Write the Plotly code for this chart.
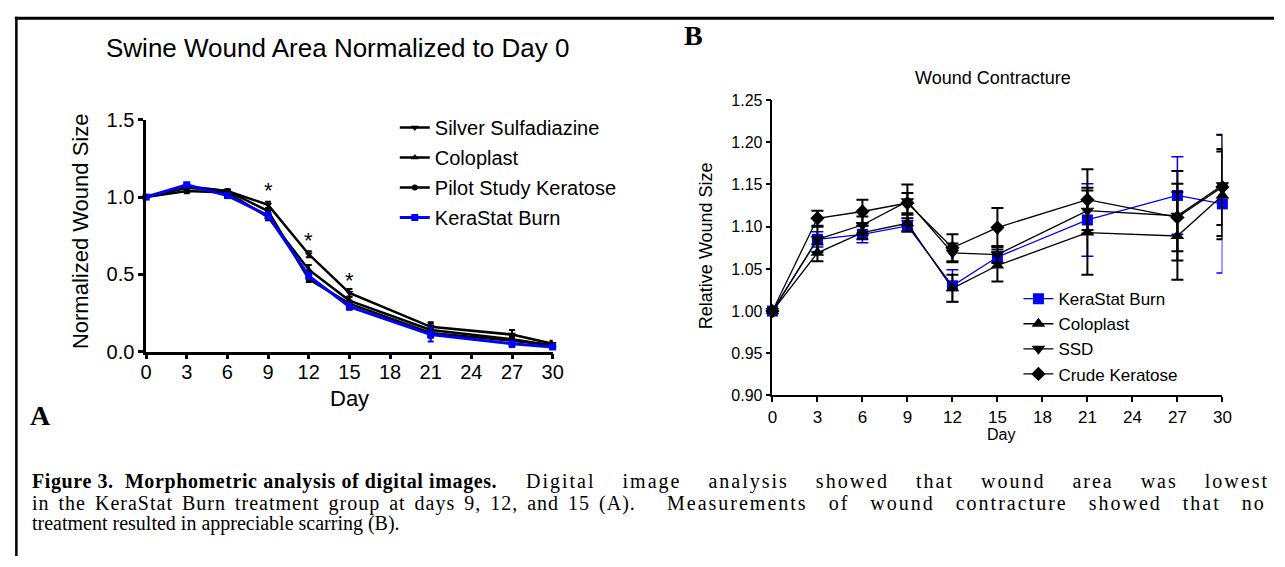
import plotly.graph_objects as go

W, H = 1285, 567

# ---------------- data: panel A ----------------
days_A = [0, 3, 6, 9, 12, 15, 21, 27, 30]
ssd_A = [1.00, 1.06, 1.04, 0.95, 0.63, 0.38, 0.16, 0.11, 0.05]
ssd_A_err = [0, 0.01, 0.01, 0.02, 0.02, 0.025, 0.03, 0.03, 0.02]
col_A = [1.00, 1.04, 1.03, 0.87, 0.53, 0.33, 0.14, 0.08, 0.04]
col_A_err = [0, 0.015, 0.01, 0.02, 0.03, 0.025, 0.04, 0.02, 0.02]
pilot_A = [1.00, 1.07, 1.04, 0.91, 0.47, 0.31, 0.12, 0.07, 0.04]
pilot_A_err = [0, 0.01, 0.01, 0.02, 0.02, 0.02, 0.03, 0.02, 0.02]
kera_A = [1.00, 1.08, 1.01, 0.88, 0.49, 0.29, 0.11, 0.05, 0.03]
kera_A_err = [0, 0.01, 0.01, 0.02, 0.02, 0.02, 0.045, 0.02, 0.01]
star_days = [9, 12, 15]
star_vals = [1.04, 0.72, 0.46]

# ---------------- data: panel B ----------------
days_B = [0, 3, 6, 9, 12, 15, 21, 27, 30]
kera_B = [1.000, 1.085, 1.091, 1.101, 1.030, 1.064, 1.108, 1.137, 1.127]
kera_B_err = [0, 0.009, 0.010, 0.006, 0.019, 0.006, 0.043, 0.046, 0.082]
col_B = [1.000, 1.069, 1.093, 1.104, 1.027, 1.054, 1.093, 1.089, 1.137]
col_B_err = [0, 0.010, 0.008, 0.010, 0.016, 0.019, 0.050, 0.052, 0.052]
ssd_B = [1.000, 1.085, 1.102, 1.130, 1.069, 1.067, 1.119, 1.113, 1.149]
ssd_B_err = [0, 0.015, 0.010, 0.020, 0.011, 0.010, 0.027, 0.053, 0.060]
crude_B = [1.000, 1.110, 1.118, 1.128, 1.075, 1.099, 1.132, 1.111, 1.147]
crude_B_err = [0, 0.009, 0.014, 0.012, 0.016, 0.023, 0.036, 0.040, 0.045]

x_ticks = [0, 3, 6, 9, 12, 15, 18, 21, 24, 27, 30]

SANS = "Arial, Liberation Sans, sans-serif"
SERIF = "Times New Roman, Liberation Serif, serif"
BLUE = "#0000ff"


def px(x):
    return x / W


def py(y):
    return 1 - y / H


fig = go.Figure()

# Panel A traces
specs_A = [
    ("Silver Sulfadiazine", ssd_A, ssd_A_err, "black", "triangle-down", 7, 2.5),
    ("Coloplast", col_A, col_A_err, "black", "triangle-up", 7, 2.5),
    ("Pilot Study Keratose", pilot_A, pilot_A_err, "black", "circle", 6, 2.5),
    ("KeraStat Burn", kera_A, kera_A_err, BLUE, "square", 7, 3),
]
for name, vals, errs, color, sym, size, lw in specs_A:
    fig.add_trace(go.Scatter(
        x=days_A, y=vals, name=name, mode="lines+markers",
        line=dict(color=color, width=lw),
        marker=dict(symbol=sym, size=size, color=color),
        error_y=dict(type="data", array=errs, visible=True, color=color,
                     thickness=2, width=3),
        xaxis="x", yaxis="y", legend="legend", cliponaxis=False,
        legendgroup=name + "A",
    ))

# Panel B traces
specs_B = [
    ("KeraStat Burn", kera_B, kera_B_err, BLUE, "square", 11, 1.5),
    ("Coloplast", col_B, col_B_err, "black", "triangle-up", 12, 2),
    ("SSD", ssd_B, ssd_B_err, "black", "triangle-down", 12, 2),
    ("Crude Keratose", crude_B, crude_B_err, "black", "diamond", 11, 2),
]
for name, vals, errs, color, sym, size, eth in specs_B:
    fig.add_trace(go.Scatter(
        x=days_B, y=vals, name=name, mode="lines+markers",
        line=dict(color=color, width=1.3),
        marker=dict(symbol=sym, size=size, color=color),
        error_y=dict(type="data", array=errs, visible=True, color=color,
                     thickness=eth, width=6),
        xaxis="x2", yaxis="y2", legend="legend2", cliponaxis=False,
        legendgroup=name + "B",
    ))

axis_common = dict(showgrid=False, zeroline=False, showline=True,
                   linecolor="black", ticks="outside", tickcolor="black")

annotations = [
    dict(text="Swine Wound Area Normalized to Day 0", x=px(336), y=py(38),
         font=dict(family=SANS, size=26, color="black")),
    dict(text="Normalized Wound Size", x=px(75), y=py(229), textangle=-90,
         font=dict(family=SANS, size=22, color="black")),
    dict(text="Day", x=px(348), y=py(403),
         font=dict(family=SANS, size=22, color="black")),
    dict(text="<b>A</b>", x=px(35), y=py(421),
         font=dict(family=SERIF, size=28, color="black")),
    dict(text="<b>B</b>", x=px(697), y=py(25),
         font=dict(family=SERIF, size=28, color="black")),
    dict(text="Wound Contracture", x=px(1000), y=py(70),
         font=dict(family=SANS, size=18, color="black")),
    dict(text="Relative Wound Size", x=px(709), y=py(244), textangle=-90,
         font=dict(family=SANS, size=18, color="black")),
    dict(text="Day", x=px(1008), y=py(441),
         font=dict(family=SANS, size=16, color="black")),
]
for a in annotations:
    a.update(xref="paper", yref="paper", showarrow=False,
             xanchor="center", yanchor="middle")

# significance stars (data coords of panel A)
for d, v in zip(star_days, star_vals):
    annotations.append(dict(text="*", x=d, y=v, xref="x", yref="y",
                            showarrow=False, yanchor="middle",
                            font=dict(family=SANS, size=22, color="black")))

# caption: justified lines approximated by chunks with letter/word spacing
cap_font = dict(family=SERIF, size=20, color="black")
cap_chunks = [
    ("<b>Figure 3.\u00a0 Morphometric analysis of digital images.</b>", 24, 490, 0.6, 0),
    ("Digital image analysis showed that wound area was lowest", 525, 490, 2.0, 20),
    ("in the KeraStat Burn treatment group at days 9, 12, and 15 (A).", 24, 512, 1.0, 3),
    ("Measurements of wound contracture showed that no", 668, 512, 2.0, 14),
    ("treatment resulted in appreciable scarring (B).", 24, 533, 0, 0),
]
for t, x, y, ls, ws in cap_chunks:
    if ls or ws:
        txt = '<span style="letter-spacing:%.1fpx; word-spacing:%dpx">%s</span>' % (ls, ws, t)
    else:
        txt = t
    annotations.append(dict(text=txt, x=px(x), y=py(y), xref="paper", yref="paper",
                            showarrow=False, xanchor="left", yanchor="middle",
                            font=cap_font))

shapes = [
    dict(type="line", xref="paper", yref="paper", x0=px(9), x1=1, y0=py(7.5), y1=py(7.5),
         line=dict(color="black", width=3)),
    dict(type="line", xref="paper", yref="paper", x0=px(10.5), x1=px(10.5), y0=py(6), y1=0,
         line=dict(color="black", width=2.5)),
]

fig.update_layout(
    width=W, height=H,
    margin=dict(l=0, r=0, t=0, b=0),
    paper_bgcolor="white", plot_bgcolor="white",
    showlegend=True,
    xaxis=dict(domain=[px(142), px(554)], range=[0, 30], tickvals=x_ticks,
               linewidth=2.5, tickwidth=2.5, ticklen=5, anchor="y",
               ticklabelstandoff=-4,
               tickfont=dict(family=SANS, size=20, color="black"), **axis_common),
    yaxis=dict(domain=[py(354.3), py(113.3)], range=[0, 1.5], tickvals=[0, 0.5, 1.0, 1.5],
               tickformat=".1f", linewidth=2.5, tickwidth=2.5, ticklen=5, anchor="x",
               tickfont=dict(family=SANS, size=20, color="black"), **axis_common),
    xaxis2=dict(domain=[px(776.7), px(1232.7)], range=[0, 30], tickvals=x_ticks,
                linewidth=1.5, tickwidth=1.5, ticklen=5, anchor="y2",
                tickfont=dict(family=SANS, size=17, color="black"), **axis_common),
    yaxis2=dict(domain=[py(400), py(92.7)], range=[0.9, 1.25],
                tickvals=[0.90, 0.95, 1.00, 1.05, 1.10, 1.15, 1.20, 1.25],
                tickformat=".2f", linewidth=1.5, tickwidth=1.5, ticklen=5, anchor="x2",
                tickfont=dict(family=SANS, size=16, color="black"), **axis_common),
    legend=dict(x=px(394), y=py(101), xanchor="left", yanchor="top",
                font=dict(family=SANS, size=20, color="black"),
                bgcolor="rgba(0,0,0,0)", tracegroupgap=1, itemclick=False),
    legend2=dict(x=px(1026), y=py(281), xanchor="left", yanchor="top",
                 font=dict(family=SANS, size=17, color="black"),
                 bgcolor="rgba(0,0,0,0)", tracegroupgap=0, itemclick=False),
    annotations=annotations,
    shapes=shapes,
)

fig.write_html("out.html")
